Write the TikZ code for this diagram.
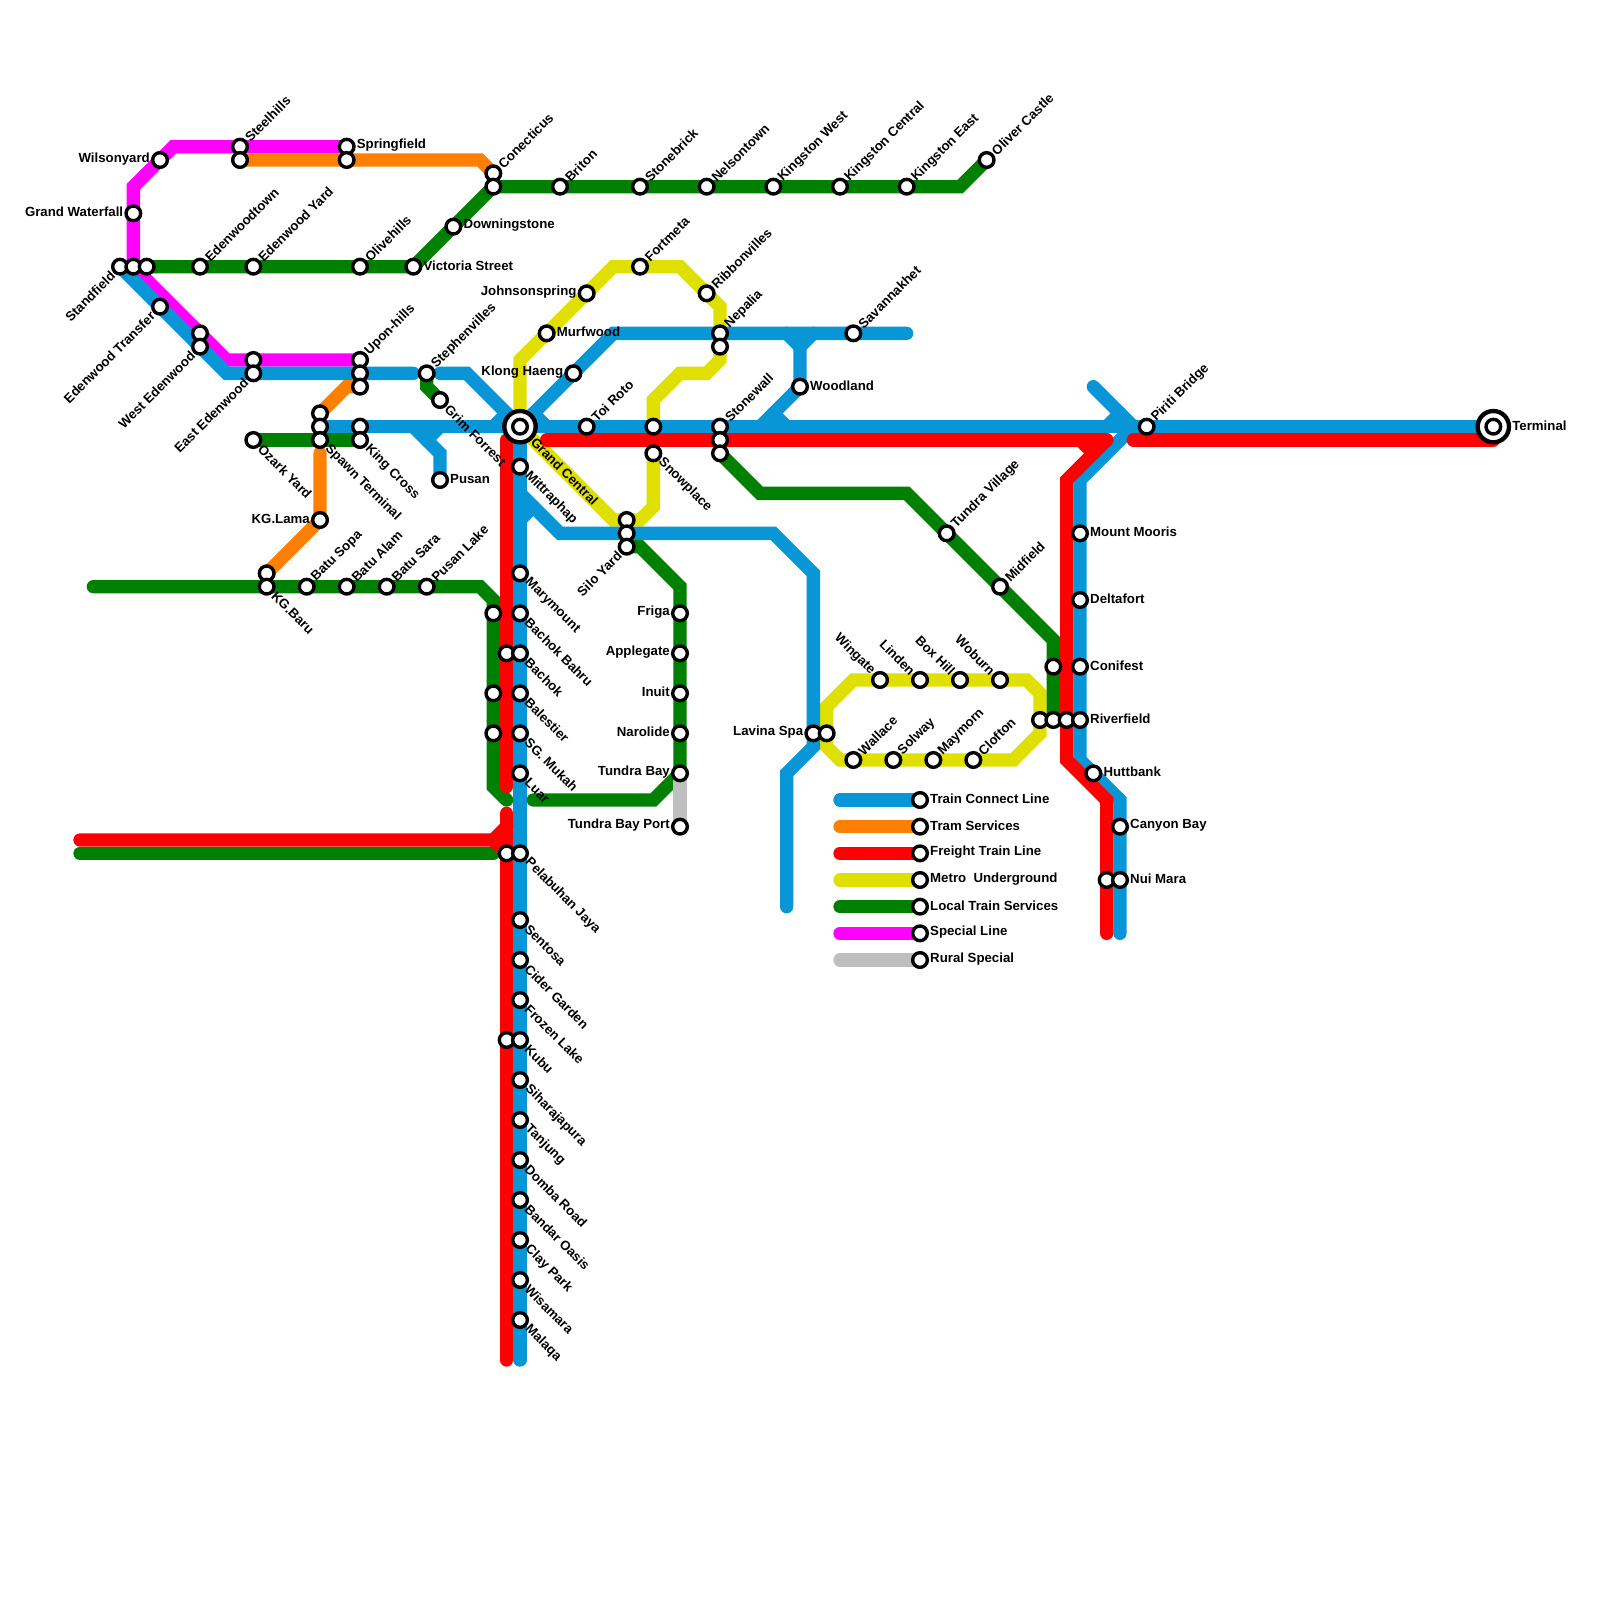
\documentclass[tikz,border=0pt]{standalone}
\usepackage{fontspec}
\setmainfont{Liberation Sans}
\usepackage{tikz}
\usetikzlibrary{backgrounds}

\definecolor{connectblue}{HTML}{0896D7}
\definecolor{tramorange}{HTML}{FF8000}
\definecolor{freightred}{HTML}{FF0000}
\definecolor{metroyellow}{HTML}{E0E000}
\definecolor{localgreen}{HTML}{008000}
\definecolor{specialpink}{HTML}{FF00FF}
\definecolor{ruralgrey}{HTML}{BFBFBF}

\tikzset{
  stn/.style={circle, draw=black, fill=white, line width=1.02mm, minimum size=4.4mm, inner sep=0pt},
  hubstn/.style={stn, line width=1.3mm, minimum size=9.4mm},
  lbl/.style={font=\bfseries\fontsize{11.3}{13}\selectfont, text=black, inner sep=0.8pt},
  lblne/.style={label={[lbl, rotate=45, anchor=west]45:#1}},
  lblse/.style={label={[lbl, rotate=-45, anchor=west]-45:#1}},
  lblsw/.style={label={[lbl, rotate=45, anchor=east]225:#1}},
  lblnw/.style={label={[lbl, rotate=-45, anchor=east]135:#1}},
  lble/.style={label={[lbl, anchor=west, yshift=1pt]0:#1}},
  lblw/.style={label={[lbl, anchor=east, yshift=1pt]180:#1}},
  route/.style={line width=4mm, line cap=round},
}

\begin{document}
\begin{tikzpicture}[x=0.4cm, y=-0.4cm]
  \useasboundingbox (0,0) rectangle (120,120);

  % Loose line ends
  \coordinate (bluestepw) at (31,28);
  \coordinate (bluestepe) at (33,28);
  \coordinate (blueeast) at (68,25);
  \coordinate (trunkbluesouth) at (39,102);
  \coordinate (lavinasouth) at (59,68);
  \coordinate (bluenorth) at (82,29);
  \coordinate (nuibluesouth) at (84,70);
  \coordinate (greenwest) at (7,44);
  \coordinate (greenfoot) at (38,60);
  \coordinate (greenfoote) at (40,60);
  \coordinate (greenlow) at (6,64);
  \coordinate (greenlowe) at (37,64);
  \coordinate (spawnorange) at (24,34);
  \coordinate (trunkredn) at (38,33);
  \coordinate (trunkredm) at (38,59);
  \coordinate (trunkredt) at (38,61);
  \coordinate (trunkreds) at (38,102);
  \coordinate (redwest) at (6,63);
  \coordinate (redmainw) at (41,33);
  \coordinate (redmaine) at (83,33);
  \coordinate (redeast) at (85,33);
  \coordinate (redterm) at (112,33);
  \coordinate (nuiredsouth) at (83,70);

  % Top stations
  \node[stn, lblw=Wilsonyard] (wilsonyard) at (12,12) {};
  \node[stn, lblw=Grand Waterfall] (waterfall) at (10,16) {};
  \node[stn, lblne=Steelhills] (steelhills) at (18,11) {};
  \node[stn] (steelhillsb) at (18,12) {};
  \node[stn, lble=Springfield] (springfield) at (26,11) {};
  \node[stn] (springfieldb) at (26,12) {};
  \node[stn, lblne=Conecticus] (conecticus) at (37,13) {};
  \node[stn] (conecticusb) at (37,14) {};
  \node[stn, lble=Downingstone] (downingstone) at (34,17) {};
  \node[stn, lblne=Briton] (briton) at (42,14) {};
  \node[stn, lblne=Stonebrick] (stonebrick) at (48,14) {};
  \node[stn, lblne=Nelsontown] (nelsontown) at (53,14) {};
  \node[stn, lblne=Kingston West] (kingstonw) at (58,14) {};
  \node[stn, lblne=Kingston Central] (kingstonc) at (63,14) {};
  \node[stn, lblne=Kingston East] (kingstone) at (68,14) {};
  \node[stn, lblne=Oliver Castle] (olivercastle) at (74,12) {};

  % Edenwood stations
  \node[stn, lblsw=Standfield] (standfield) at (9,20) {};
  \node[stn] (standfieldb) at (10,20) {};
  \node[stn] (standfieldc) at (11,20) {};
  \node[stn, lblne=Edenwoodtown] (edenwoodtown) at (15,20) {};
  \node[stn, lblne=Edenwood Yard] (edenwoodyard) at (19,20) {};
  \node[stn, lblne=Olivehills] (olivehills) at (27,20) {};
  \node[stn, lble=Victoria Street] (victoria) at (31,20) {};
  \node[stn, lblsw=Edenwood Transfer] (edentransfer) at (12,23) {};
  \node[stn] (westedenb) at (15,25) {};
  \node[stn, lblsw=West Edenwood] (westeden) at (15,26) {};
  \node[stn] (eastedenb) at (19,27) {};
  \node[stn, lblsw=East Edenwood] (easteden) at (19,28) {};
  \node[stn, lblne=Upon-hills] (uponhills) at (27,27) {};
  \node[stn] (uponhillsb) at (27,28) {};
  \node[stn] (uponhillsc) at (27,29) {};
  \node[stn, lblne=Stephenvilles] (stephenvilles) at (32,28) {};
  \node[stn, lblse=Grim Forrest] (grimforrest) at (33,30) {};

  % Spawn stations
  \node[stn] (spawna) at (24,31) {};
  \node[stn] (spawnb) at (24,32) {};
  \node[stn, lblse=Spawn Terminal] (spawn) at (24,33) {};
  \node[stn, lblse=Ozark Yard] (ozark) at (19,33) {};
  \node[stn] (kingcrossb) at (27,32) {};
  \node[stn, lblse=King Cross] (kingcross) at (27,33) {};
  \node[stn, lble=Pusan] (pusan) at (33,36) {};
  \node[stn, lblw=KG.Lama] (kglama) at (24,39) {};
  \node[stn] (kgbarub) at (20,43) {};
  \node[stn, lblse=KG.Baru] (kgbaru) at (20,44) {};
  \node[stn, lblne=Batu Sopa] (batusopa) at (23,44) {};
  \node[stn, lblne=Batu Alam] (batualam) at (26,44) {};
  \node[stn, lblne=Batu Sara] (batusara) at (29,44) {};
  \node[stn, lblne=Pusan Lake] (pusanlake) at (32,44) {};

  % Trunk stations
  \node[stn] (greena) at (37,46) {};
  \node[stn] (reda) at (38,49) {};
  \node[stn] (greenb) at (37,52) {};
  \node[stn] (greenc) at (37,55) {};
  \node[stn] (redb) at (38,64) {};
  \node[stn] (redc) at (38,78) {};
  \node[stn, lblse=Mittraphap] (mittraphap) at (39,35) {};
  \node[stn, lblse=Marymount] (marymount) at (39,43) {};
  \node[stn, lblse=Bachok Bahru] (bachokbahru) at (39,46) {};
  \node[stn, lblse=Bachok] (bachok) at (39,49) {};
  \node[stn, lblse=Balestier] (balestier) at (39,52) {};
  \node[stn, lblse=SG. Mukah] (sgmukah) at (39,55) {};
  \node[stn, lblse=Luar] (luar) at (39,58) {};
  \node[stn, lblse=Pelabuhan Jaya] (pelabuhan) at (39,64) {};
  \node[stn, lblse=Sentosa] (sentosa) at (39,69) {};
  \node[stn, lblse=Cider Garden] (cidergarden) at (39,72) {};
  \node[stn, lblse=Frozen Lake] (frozenlake) at (39,75) {};
  \node[stn, lblse=Kubu] (kubu) at (39,78) {};
  \node[stn, lblse=Siharajapura] (siharajapura) at (39,81) {};
  \node[stn, lblse=Tanjung] (tanjung) at (39,84) {};
  \node[stn, lblse=Domba Road] (dombaroad) at (39,87) {};
  \node[stn, lblse=Bandar Oasis] (bandaroasis) at (39,90) {};
  \node[stn, lblse=Clay Park] (claypark) at (39,93) {};
  \node[stn, lblse=Wisamara] (wisamara) at (39,96) {};
  \node[stn, lblse=Malaqa] (malaqa) at (39,99) {};

  % Centre stations
  \node[hubstn, lblse=Grand Central] (grandcentral) at (39,32) {};
  \node[stn] (grandcentralin) at (39,32) {};
  \node[stn, lble=Murfwood] (murfwood) at (41,25) {};
  \node[stn, lblw=Johnsonspring] (johnsonspring) at (44,22) {};
  \node[stn, lblne=Fortmeta] (fortmeta) at (48,20) {};
  \node[stn, lblne=Ribbonvilles] (ribbonvilles) at (53,22) {};
  \node[stn, lblne=Nepalia] (nepalia) at (54,25) {};
  \node[stn] (nepaliab) at (54,26) {};
  \node[stn, lblw=Klong Haeng] (klonghaeng) at (43,28) {};
  \node[stn, lblne=Toi Roto] (toiroto) at (44,32) {};
  \node[stn] (snowplaceb) at (49,32) {};
  \node[stn, lblse=Snowplace] (snowplace) at (49,34) {};
  \node[stn, lblne=Stonewall] (stonewall) at (54,32) {};
  \node[stn] (stonewallb) at (54,33) {};
  \node[stn] (stonewallc) at (54,34) {};
  \node[stn, lblne=Savannakhet] (savannakhet) at (64,25) {};
  \node[stn, lble=Woodland] (woodland) at (60,29) {};
  \node[stn] (siloa) at (47,39) {};
  \node[stn] (silob) at (47,40) {};
  \node[stn, lblsw=Silo Yard] (siloyard) at (47,41) {};
  \node[stn, lblw=Friga] (friga) at (51,46) {};
  \node[stn, lblw=Applegate] (applegate) at (51,49) {};
  \node[stn, lblw=Inuit] (inuit) at (51,52) {};
  \node[stn, lblw=Narolide] (narolide) at (51,55) {};
  \node[stn, lblw=Tundra Bay] (tundrabay) at (51,58) {};
  \node[stn, lblw=Tundra Bay Port] (tundraport) at (51,62) {};

  % Ring stations
  \node[stn, lblw=Lavina Spa] (lavinaspa) at (61,55) {};
  \node[stn] (lavinab) at (62,55) {};
  \node[stn, lblnw=Wingate] (wingate) at (66,51) {};
  \node[stn, lblnw=Linden] (linden) at (69,51) {};
  \node[stn, lblnw=Box Hill] (boxhill) at (72,51) {};
  \node[stn, lblnw=Woburn] (woburn) at (75,51) {};
  \node[stn, lblne=Wallace] (wallace) at (64,57) {};
  \node[stn, lblne=Solway] (solway) at (67,57) {};
  \node[stn, lblne=Maymorn] (maymorn) at (70,57) {};
  \node[stn, lblne=Clofton] (clofton) at (73,57) {};

  % East stations
  \node[stn, lblne=Tundra Village] (tundravillage) at (71,40) {};
  \node[stn, lblne=Midfield] (midfield) at (75,44) {};
  \node[stn] (conifestb) at (79,50) {};
  \node[stn] (riverb) at (78,54) {};
  \node[stn] (riverc) at (79,54) {};
  \node[stn] (riverd) at (80,54) {};
  \node[stn, lble=Mount Mooris] (mountmooris) at (81,40) {};
  \node[stn, lble=Deltafort] (deltafort) at (81,45) {};
  \node[stn, lble=Conifest] (conifest) at (81,50) {};
  \node[stn, lble=Riverfield] (riverfield) at (81,54) {};
  \node[stn, lble=Huttbank] (huttbank) at (82,58) {};
  \node[stn, lble=Canyon Bay] (canyonbay) at (84,62) {};
  \node[stn] (nuimarab) at (83,66) {};
  \node[stn, lble=Nui Mara] (nuimara) at (84,66) {};
  \node[stn, lblne=Piriti Bridge] (piriti) at (86,32) {};
  \node[hubstn, lble=Terminal] (terminal) at (112,32) {};
  \node[stn] (terminalin) at (112,32) {};

  % Legend
  \coordinate (keyblue) at (63,60);
  \coordinate (keyorange) at (63,62);
  \coordinate (keyred) at (63,64);
  \coordinate (keyyellow) at (63,66);
  \coordinate (keygreen) at (63,68);
  \coordinate (keypink) at (63,70);
  \coordinate (keygrey) at (63,72);
  \node[stn, lble=Train Connect Line] (legendblue) at (69,60) {};
  \node[stn, lble=Tram Services] (legendorange) at (69,62) {};
  \node[stn, lble=Freight Train Line] (legendred) at (69,64) {};
  \node[stn, lble=Metro\ \ Underground] (legendyellow) at (69,66) {};
  \node[stn, lble=Local Train Services] (legendgreen) at (69,68) {};
  \node[stn, lble=Special Line] (legendpink) at (69,70) {};
  \node[stn, lble=Rural Special] (legendgrey) at (69,72) {};

  \begin{scope}[on background layer]
    % Metro Underground
    \begin{scope}[route, draw=metroyellow]
      \draw (grandcentral.center) -- (39,27) -- (46,20) -- (51,20) -- (54,23) -- (54,27) -- (53,28) -- (51,28) -- (49,30) -- (snowplaceb.center);
      \draw (grandcentral.center) -- (46,39) -- (48,39) -- (49,38) -- (snowplace.center);
      \draw (62,53) -- (64,51) -- (77,51) -- (78,52) -- (78,55) -- (76,57) -- (63,57) -- (62,56) -- cycle;
      \draw (keyyellow) -- (legendyellow.center);
    \end{scope}
    % Special Line
    \begin{scope}[route, draw=specialpink]
      \draw (springfield.center) -- (13,11) -- (10,14) -- (standfieldb.center) -- (17,27) -- (uponhills.center);
      \draw (keypink) -- (legendpink.center);
    \end{scope}
    % Train Connect Line
    \begin{scope}[route, draw=connectblue]
      \draw (standfield.center) -- (17,28) -- (bluestepw);
      \draw (bluestepe) -- (35,28) -- (grandcentral.center);
      \draw (spawnb.center) -- (terminal.center);
      \draw (grandcentral.center) -- (46,25) -- (blueeast);
      \draw (grandcentral.center) -- (trunkbluesouth);
      \draw (39,37) -- (42,40) -- (58,40) -- (61,43) -- (61,56) -- (59,58) -- (lavinasouth);
      \draw (31,32) -- (33,34) -- (pusan.center);
      \draw (59,25) -- (60,26) -- (61,25);
      \draw (60,26) -- (woodland.center) -- (57,32);
      \draw (bluenorth) -- (85,32) -- (81,36) -- (81,57) -- (84,60) -- (nuibluesouth);
      % Junction corners
      \draw (37,32) -- (38,31);
      \draw (40,31) -- (41,32);
      \draw (39,39) -- (40,38);
      \draw (32,33) -- (33,32);
      \draw (58,31) -- (59,32);
      \draw (83,32) -- (84,31);
      \draw (keyblue) -- (legendblue.center);
    \end{scope}
    % Tram Services
    \begin{scope}[route, draw=tramorange]
      \draw (steelhillsb.center) -- (36,12) -- (conecticus.center);
      \draw (uponhillsc.center) -- (26,29) -- (spawna.center);
      \draw (spawnorange) -- (kglama.center) -- (kgbarub.center);
      \draw (keyorange) -- (legendorange.center);
    \end{scope}
    % Local Train Services
    \begin{scope}[route, draw=localgreen]
      \draw (standfieldc.center) -- (victoria.center) -- (conecticusb.center) -- (72,14) -- (olivercastle.center);
      \draw (stephenvilles.center) -- (32,29) -- (grimforrest.center);
      \draw (ozark.center) -- (kingcross.center);
      \draw (greenwest) -- (36,44) -- (37,45) -- (37,59) -- (greenfoot);
      \draw (greenfoote) -- (49,60) -- (tundrabay.center) -- (51,44) -- (48,41) -- (siloyard.center);
      \draw (greenlow) -- (greenlowe);
      \draw (stonewallc.center) -- (57,37) -- (68,37) -- (79,48) -- (riverc.center);
      \draw (keygreen) -- (legendgreen.center);
    \end{scope}
    % Rural Special
    \begin{scope}[route, draw=ruralgrey]
      \draw (tundrabay.center) -- (tundraport.center);
      \draw (keygrey) -- (legendgrey.center);
    \end{scope}
    % Freight Train Line
    \begin{scope}[route, draw=freightred]
      \draw (trunkredn) -- (trunkredm);
      \draw (trunkredt) -- (trunkreds);
      \draw (redwest) -- (37,63) -- (38,62);
      \draw (37,63) -- (38,64);
      \draw (redmainw) -- (redmaine);
      \draw (redmaine) -- (80,36) -- (80,57) -- (83,60) -- (nuiredsouth);
      \draw (81,33) -- (82,34);
      \draw (redeast) -- (redterm);
      \draw (keyred) -- (legendred.center);
    \end{scope}
  \end{scope}
\end{tikzpicture}
\end{document}
